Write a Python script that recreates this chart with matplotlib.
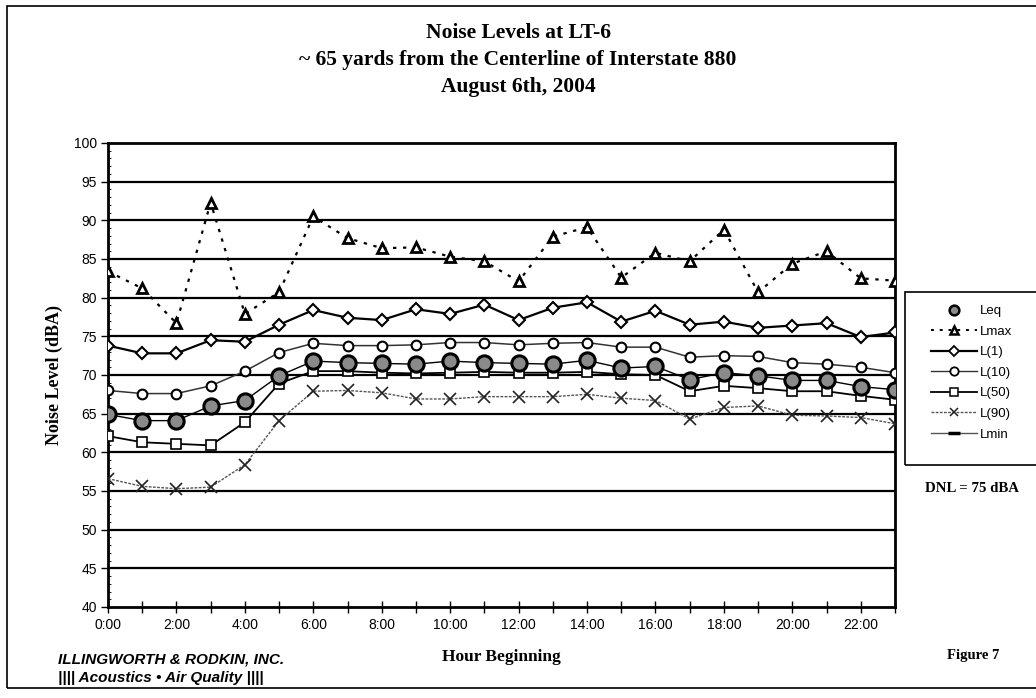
import matplotlib.pyplot as plt
import numpy as np
from matplotlib.lines import Line2D
from matplotlib.patches import Rectangle
from matplotlib.ticker import MultipleLocator

hours = list(range(24))
hour_labels = ['0:00', '2:00', '4:00', '6:00', '8:00', '10:00',
               '12:00', '14:00', '16:00', '18:00', '20:00', '22:00']

lmax = [83.4, 81.2, 76.7, 92.3, 77.9, 80.7, 90.5, 87.7, 86.4, 86.5, 85.3, 84.7,
        82.1, 87.9, 89.1, 82.6, 85.8, 84.7, 88.8, 80.7, 84.4, 86.0, 82.5, 82.2]
l1 = [73.8, 72.8, 72.8, 74.5, 74.3, 76.5, 78.4, 77.4, 77.1, 78.5, 77.9, 79.1,
      77.1, 78.7, 79.4, 76.9, 78.3, 76.5, 76.9, 76.1, 76.4, 76.7, 74.9, 75.5]
l10 = [68.0, 67.6, 67.6, 68.6, 70.5, 72.9, 74.1, 73.8, 73.8, 73.9, 74.2, 74.2,
       73.9, 74.1, 74.2, 73.6, 73.6, 72.3, 72.5, 72.4, 71.6, 71.4, 71.0, 70.3]
leq = [64.9, 64.1, 64.1, 66.0, 66.7, 69.9, 71.8, 71.6, 71.5, 71.4, 71.8, 71.6,
       71.5, 71.4, 71.9, 70.9, 71.1, 69.4, 70.3, 69.9, 69.3, 69.3, 68.5, 68.1]
l50 = [62.1, 61.3, 61.1, 60.9, 63.9, 68.9, 70.5, 70.5, 70.3, 70.2, 70.3, 70.4,
       70.3, 70.3, 70.4, 70.1, 70.0, 67.9, 68.6, 68.3, 67.9, 67.9, 67.3, 66.8]
l90 = [56.6, 55.6, 55.3, 55.5, 58.4, 64.1, 67.9, 68.0, 67.7, 66.9, 66.9, 67.2,
       67.2, 67.2, 67.5, 67.0, 66.7, 64.3, 65.8, 66.0, 64.8, 64.7, 64.5, 63.7]

serif = 'Liberation Serif'
sans = 'Liberation Sans'

W, H = 1036, 698
fig = plt.figure(figsize=(W / 100, H / 100), dpi=100)

# page frame (right side runs off the page)
fig.patches.append(Rectangle((7 / W, 10 / H), 1.2, 682 / H, transform=fig.transFigure,
                             fill=False, edgecolor='black', linewidth=1.2))
# legend frame, also running off the right edge
fig.patches.append(Rectangle((905 / W, 1 - 465 / H), 0.2, 173 / H, transform=fig.transFigure,
                             fill=False, edgecolor='black', linewidth=1.2))

ax = fig.add_axes([108 / W, 91 / H, 787 / W, 464 / H])

for y in range(45, 100, 5):
    ax.axhline(y, color='black', linewidth=1.6, zorder=1)

ax.plot(hours, lmax, color='black', linestyle=(0, (1.5, 3)), linewidth=1.6,
        marker='^', markersize=7, markerfacecolor='white', markeredgecolor='black',
        markeredgewidth=2, zorder=3)
ax.plot(hours, l1, color='black', linewidth=1.6, marker='D', markersize=6,
        markerfacecolor='white', markeredgecolor='black', markeredgewidth=1.5, zorder=3)
ax.plot(hours, l10, color='#333333', linewidth=1.1, marker='o', markersize=7,
        markerfacecolor='white', markeredgecolor='black', markeredgewidth=1.5, zorder=3)
ax.plot(hours, l50, color='black', linewidth=1.3, marker='s', markersize=6.5,
        markerfacecolor='white', markeredgecolor='black', markeredgewidth=1.2, zorder=3)
ax.plot(hours, l90, color='#555555', linewidth=1.0, linestyle=(0, (2, 1)), marker='x',
        markersize=8, markeredgecolor='#222222', markeredgewidth=1.2, zorder=3)
ax.plot(hours, leq, color='black', linewidth=1.0, marker='o', markersize=11,
        markerfacecolor='#8a8a8a', markeredgecolor='black', markeredgewidth=2.2, zorder=4)

ax.set_xlim(0, 23)
ax.set_ylim(40, 100)
ax.set_xticks(range(0, 24, 2))
ax.set_xticklabels(hour_labels)
ax.set_xticks(range(0, 24), minor=True)
ax.yaxis.set_major_locator(MultipleLocator(5))
ax.yaxis.set_minor_locator(MultipleLocator(1))
ax.tick_params(axis='x', which='both', direction='inout', length=8, width=1, pad=4,
               labelsize=10)
ax.tick_params(axis='y', which='major', direction='out', length=5, width=1, pad=3,
               labelsize=10)
ax.tick_params(axis='y', which='minor', direction='in', length=2, width=0.6)
for lab in ax.get_xticklabels() + ax.get_yticklabels():
    lab.set_fontfamily(sans)
for sp in ax.spines.values():
    sp.set_linewidth(2)

ax.set_ylabel('Noise Level (dBA)', fontfamily=serif, fontweight='bold', fontsize=13,
              labelpad=8)
ax.set_xlabel('Hour Beginning', fontfamily=serif, fontweight='bold', fontsize=12.5,
              labelpad=12)

fig.text(0.5, 1 - 60 / H, 'Noise Levels at LT-6\n~ 65 yards from the Centerline of Interstate 880\nAugust 6th, 2004',
         ha='center', va='center', fontfamily=serif, fontweight='bold', fontsize=15.5,
         linespacing=1.45)

handles = [
    Line2D([], [], linestyle='none', marker='o', markersize=7, markerfacecolor='#8a8a8a',
           markeredgecolor='black', markeredgewidth=1.8),
    Line2D([], [], color='black', linestyle=(0, (1.5, 3)), linewidth=1.4, marker='^',
           markersize=6, markerfacecolor='white', markeredgecolor='black', markeredgewidth=1.8),
    Line2D([], [], color='black', linewidth=1.6, marker='D', markersize=5,
           markerfacecolor='white', markeredgecolor='black', markeredgewidth=1.3),
    Line2D([], [], color='#333333', linewidth=1.0, marker='o', markersize=6,
           markerfacecolor='white', markeredgecolor='black', markeredgewidth=1.3),
    Line2D([], [], color='black', linewidth=1.3, marker='s', markersize=6,
           markerfacecolor='white', markeredgecolor='black', markeredgewidth=1.1),
    Line2D([], [], color='#555555', linewidth=1.0, linestyle=(0, (2, 1)), marker='x',
           markersize=6, markeredgecolor='#222222', markeredgewidth=1.1),
    Line2D([], [], color='#555555', linewidth=1.0, marker='_', markersize=9,
           markeredgecolor='black', markeredgewidth=2.5),
]
names = ['Leq', 'Lmax', 'L(1)', 'L(10)', 'L(50)', 'L(90)', 'Lmin']
fig.legend(handles, names, loc='upper left', bbox_to_anchor=(931 / W, 1 - 305 / H),
           frameon=False, handlelength=3.5, handletextpad=0.2, borderpad=0,
           labelspacing=0.63, prop={'family': sans, 'size': 9.5}, borderaxespad=0)

fig.text(925 / W, 1 - 488 / H, 'DNL = 75 dBA', fontfamily=serif, fontweight='bold',
         fontsize=10.7, va='center')
fig.text(947 / W, 1 - 656 / H, 'Figure 7', fontfamily=serif, fontweight='bold',
         fontsize=10.5, va='center')
fig.text(58 / W, 1 - 660 / H, 'ILLINGWORTH & RODKIN, INC.', fontfamily=sans,
         fontweight='bold', fontstyle='italic', fontsize=11, va='center')
fig.text(58 / W, 1 - 678 / H, '|||| Acoustics • Air Quality ||||', fontfamily=sans,
         fontweight='bold', fontstyle='italic', fontsize=11, va='center')

fig.savefig('out.png', dpi=100)
